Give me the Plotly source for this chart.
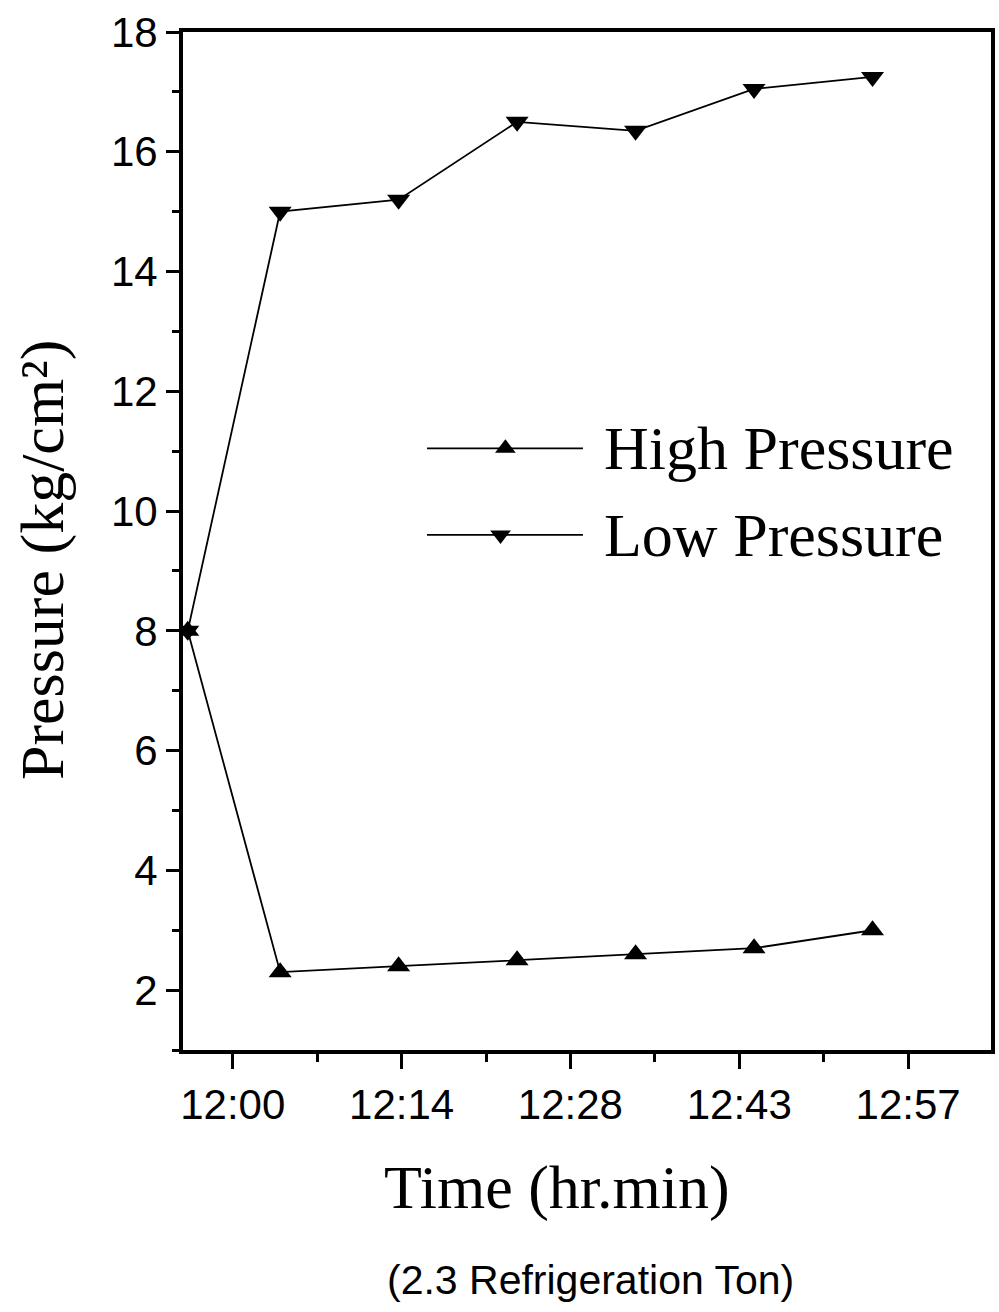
import plotly.graph_objects as go

# ---- data ----
time_min = [-3.8, 4.0, 14.0, 24.0, 34.0, 44.0, 54.0]          # minutes after 12:00
high_pressure = [8.0, 2.3, 2.4, 2.5, 2.6, 2.7, 3.0]
low_pressure = [8.0, 15.0, 15.2, 16.5, 16.35, 17.05, 17.25]
tick_minutes = [0, 14.25, 28.5, 42.75, 57]
tick_labels = ["12:00", "12:14", "12:28", "12:43", "12:57"]
y_ticks = [2, 4, 6, 8, 10, 12, 14, 16, 18]
series_names = ["High Pressure", "Low Pressure"]

SERIF = "Times New Roman, Liberation Serif, serif"
SANS = "Arial, Liberation Sans, sans-serif"

fig = go.Figure()
fig.add_trace(go.Scatter(x=time_min, y=high_pressure, mode="lines+markers",
                         name=series_names[0], showlegend=False,
                         line=dict(color="black", width=1.8),
                         marker=dict(symbol="triangle-up", size=20, color="black")))
fig.add_trace(go.Scatter(x=time_min, y=low_pressure, mode="lines+markers",
                         name=series_names[1], showlegend=False,
                         line=dict(color="black", width=1.8),
                         marker=dict(symbol="triangle-down", size=20, color="black")))

# ---- manual legend (on hidden overlay axes, 0..1 of the plot area) ----
leg_rows = [(0.591, "triangle-up", 0.399), (0.506, "triangle-down", 0.393)]
for (ly, sym, mx), name in zip(leg_rows, series_names):
    fig.add_trace(go.Scatter(x=[0.302, 0.495], y=[ly, ly], mode="lines",
                             xaxis="x2", yaxis="y2", showlegend=False, hoverinfo="skip",
                             line=dict(color="black", width=1.8)))
    fig.add_trace(go.Scatter(x=[mx], y=[ly], mode="markers",
                             xaxis="x2", yaxis="y2", showlegend=False, hoverinfo="skip",
                             marker=dict(symbol=sym, size=18, color="black")))
    fig.add_annotation(x=0.518, y=ly, xref="x2", yref="y2", text=name, showarrow=False,
                       xanchor="left", yanchor="middle",
                       font=dict(family=SERIF, size=62, color="black"))

minor_x = [(tick_minutes[i] + tick_minutes[i + 1]) / 2 for i in range(len(tick_minutes) - 1)]
minor_x.append(tick_minutes[-1] + (tick_minutes[1] - tick_minutes[0]) / 2)

fig.update_layout(
    width=999, height=1312,
    margin=dict(l=183, r=4, t=32, b=262),
    paper_bgcolor="white", plot_bgcolor="white",
    xaxis=dict(range=[-4.2, 64], tickmode="array", tickvals=tick_minutes, ticktext=tick_labels,
               ticks="outside", ticklen=15, tickwidth=3, tickcolor="black",
               minor=dict(tickvals=minor_x, ticks="outside", ticklen=8, tickwidth=3, tickcolor="black"),
               showline=True, linecolor="black", linewidth=4, mirror=True,
               showgrid=False, zeroline=False,
               tickfont=dict(family=SANS, size=42, color="black")),
    yaxis=dict(range=[1, 18], tickmode="array", tickvals=y_ticks,
               ticks="outside", ticklen=13, tickwidth=3, tickcolor="black",
               minor=dict(dtick=1, ticks="outside", ticklen=7, tickwidth=3, tickcolor="black"),
               showline=True, linecolor="black", linewidth=4, mirror=True,
               showgrid=False, zeroline=False,
               tickfont=dict(family=SANS, size=42, color="black")),
    xaxis2=dict(overlaying="x", range=[0, 1], visible=False),
    yaxis2=dict(overlaying="y", range=[0, 1], visible=False),
)

fig.add_annotation(x=0.463, y=-0.1346, xref="paper", yref="paper", text="Time (hr.min)",
                   showarrow=False, xanchor="center", yanchor="middle",
                   font=dict(family=SERIF, size=62, color="black"))
fig.add_annotation(x=0.504, y=-0.226, xref="paper", yref="paper", text="(2.3 Refrigeration Ton)",
                   showarrow=False, xanchor="center", yanchor="middle",
                   font=dict(family=SANS, size=41, color="black"))
fig.add_annotation(x=-0.1736, y=0.481, xref="paper", yref="paper", text="Pressure (kg/cm²)",
                   showarrow=False, xanchor="center", yanchor="middle", textangle=-90,
                   font=dict(family=SERIF, size=62, color="black"))

fig.write_html("out.html")
